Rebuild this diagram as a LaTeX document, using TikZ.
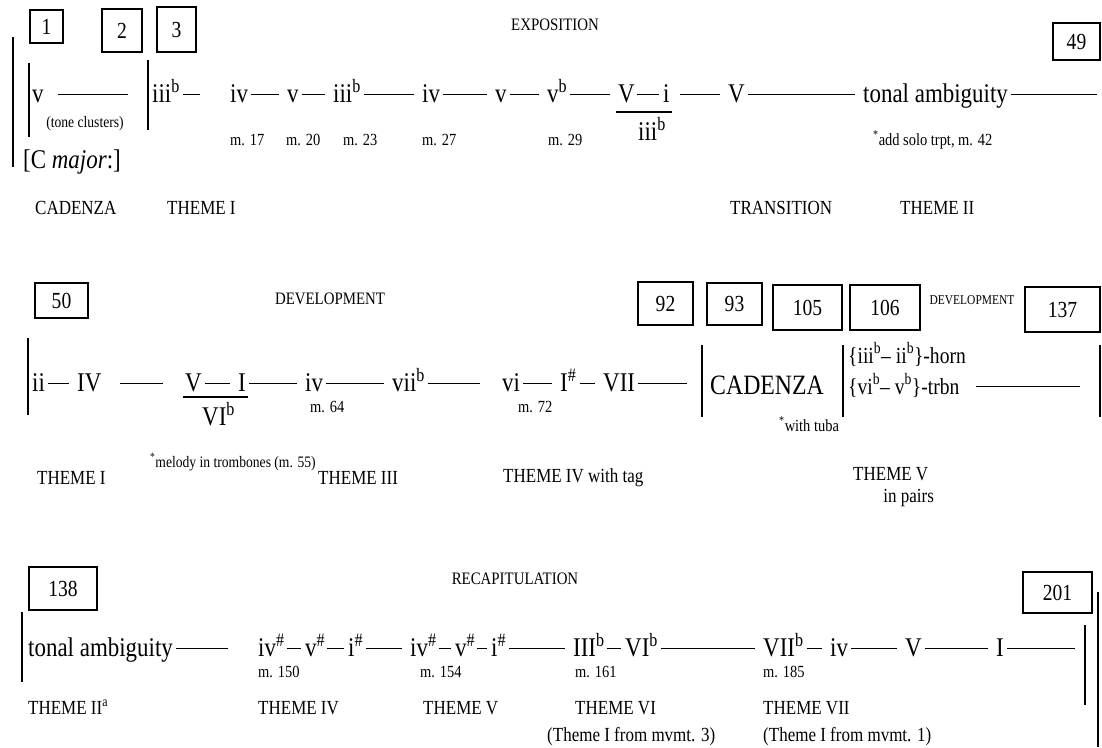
\documentclass[tikz,border=0pt]{standalone}
\usepackage{fontspec}
\setmainfont{Liberation Serif}[FakeStretch=0.85]
\usetikzlibrary{positioning}

\begin{document}
\begin{tikzpicture}[x=1pt, y=-1pt,
  chord/.style={font=\fontsize{27}{29}\selectfont, inner xsep=2pt, inner ysep=0pt, text height=18pt, text depth=3pt, anchor=base west},
  inst/.style={chord, font=\fontsize{23}{25}\selectfont},
  lbl/.style={font=\fontsize{20}{22}\selectfont, inner sep=0pt, anchor=base west},
  head/.style={font=\fontsize{17.5}{20}\selectfont, inner sep=0pt, anchor=base},
  mno/.style={font=\fontsize{17}{19}\selectfont, inner sep=0pt, anchor=base west},
  note/.style={font=\fontsize{16}{18}\selectfont, inner sep=0pt, anchor=base west},
  mbox/.style={draw, line width=1.4pt, inner sep=0pt, font=\fontsize{23}{25}\selectfont},
  link/.style={line width=1.1pt, shorten >=6pt, shorten <=1pt},
  tight/.style={link, shorten >=2pt, shorten <=0pt},
  barl/.style={line width=1.8pt}]
\useasboundingbox (0,0) rectangle (1102,747);

\node[mbox, minimum width=33pt, minimum height=33pt] (m1) at (46.5,26.5) {1};
\node[mbox, minimum width=40pt, minimum height=43pt] (m2) at (122,30.5) {2};
\node[mbox, minimum width=39pt, minimum height=45pt] (m3) at (176.5,29.5) {3};
\node[mbox, minimum width=47pt, minimum height=37pt] (m49) at (1076.5,41.5) {49};
\node[head] (expo) at (555,30) {EXPOSITION};
\draw[barl] (13,37) -- (13,167); \draw[barl] (29,63) -- (29,137); \draw[barl] (148,60) -- (148,130);
\node[chord] (v1) at (30,102) {v};
\node[note, anchor=base] (tcl) at (85,127) {(tone clusters)};
\node[chord] (cmaj) at (21,168) {[C \textit{major}:]};
\coordinate (cadE) at (134,94.5);
\node[chord] (iiiA) at (150,102) {iii\textsuperscript{b}};
\node[chord] (ivA) at (228,102) {iv};
\node[chord] (vA) at (285,102) {v};
\node[chord] (iiiB) at (331,102) {iii\textsuperscript{b}};
\node[chord] (ivB) at (420,102) {iv};
\node[chord] (vB) at (493,102) {v};
\node[chord] (vbA) at (545,102) {v\textsuperscript{b}};
\node[chord] (fV) at (616,102) {V};
\node[chord] (fi) at (661,102) {i};
\node[chord] (fiii) at (636,140) {iii\textsuperscript{b}};
\node[chord] (VA) at (726,102) {V};
\node[chord] (tonA) at (861,102) {tonal ambiguity};
\coordinate (endA) at (1103,94.5);
\coordinate (fbA) at (0,112);
\node[mno] (m17) at (230,145) {m. 17};
\node[mno] (m20) at (286,145) {m. 20};
\node[mno] (m23) at (343,145) {m. 23};
\node[mno] (m27) at (422,145) {m. 27};
\node[mno] (m29) at (548,145) {m. 29};
\node[mno] (trpt) at (873,145) {\textsuperscript{*}add solo trpt, m. 42};
\node[lbl] (cadz) at (35,214) {CADENZA};
\node[lbl] (thI) at (167,214) {THEME I};
\node[lbl] (trans) at (730,214) {TRANSITION};
\node[lbl] (thII) at (900,214) {THEME II};
\draw[link, shorten <=12pt] (v1) -- (cadE); \draw[link, shorten >=28pt] (iiiA) -- (ivA);
\draw[link] (ivA) -- (vA); \draw[link] (vA) -- (iiiB); \draw[link] (iiiB) -- (ivB);
\draw[link] (ivB) -- (vB); \draw[link] (vB) -- (vbA); \draw[link] (vbA) -- (fV);
\draw[tight] (fV) -- (fi); \draw[link, shorten <=8pt] (fi) -- (VA); \draw[link] (VA) -- (tonA);
\draw[link] (tonA) -- (endA);
\draw[line width=1.1pt] (fV.west |- fbA) -- (fi.east |- fbA);

\node[mbox, minimum width=53pt, minimum height=35pt] (m50) at (61.5,300.5) {50};
\node[head] (devel) at (330,304) {DEVELOPMENT};
\node[mbox, minimum width=55pt, minimum height=43pt] (m92) at (665.5,303.5) {92};
\node[mbox, minimum width=55pt, minimum height=42pt] (m93) at (734.5,304) {93};
\node[mbox, minimum width=69pt, minimum height=45pt] (m105) at (807.5,307.5) {105};
\node[mbox, minimum width=70pt, minimum height=45pt] (m106) at (885,307.5) {106};
\node[head, font=\fontsize{13.5}{15}\selectfont] (develb) at (972,304) {DEVELOPMENT};
\node[mbox, minimum width=75pt, minimum height=45pt] (m137) at (1062.5,309.5) {137};
\draw[barl] (28,338) -- (28,415); \draw[barl] (702,345) -- (702,417);
\draw[barl] (843,345) -- (843,417); \draw[barl] (1100,345) -- (1100,417);
\node[chord] (ii) at (30,391) {ii};
\node[chord] (IV) at (75,391) {IV};
\node[chord] (fV2) at (183,391) {V};
\node[chord] (fI2) at (236,391) {I};
\node[chord] (fVI) at (200,425) {VI\textsuperscript{b}};
\node[chord] (iv2) at (303,391) {iv};
\node[chord] (vii) at (390,391) {vii\textsuperscript{b}};
\node[chord] (vi) at (500,391) {vi};
\node[chord] (Is) at (558,391) {I\textsuperscript{\#}};
\node[chord] (VII) at (601,391) {VII};
\coordinate (endB) at (693,383.5);
\coordinate (fbB) at (0,397);
\node[chord, font=\fontsize{28}{30}\selectfont] (cadb) at (708,394) {CADENZA};
\node[mno] (tuba) at (779,431) {\textsuperscript{*}with tuba};
\node[inst] (horn) at (846,363) {\{iii\textsuperscript{b}-- ii\textsuperscript{b}\}-horn};
\node[inst] (trbn) at (846,394) {\{vi\textsuperscript{b}-- v\textsuperscript{b}\}-trbn};
\coordinate (devE) at (1086,386.5);
\node[mno] (m64) at (310,412) {m. 64};
\node[mno] (m72) at (518,412) {m. 72};
\node[note] (melo) at (150,467) {\textsuperscript{*}melody in trombones (m. 55)};
\node[lbl] (thIb) at (37,484) {THEME I};
\node[lbl] (thIII) at (318,484) {THEME III};
\node[lbl] (thIV) at (503,482) {THEME IV with tag};
\node[lbl] (thV) at (853,480) {THEME V};
\node[lbl, below=9pt of thV, xshift=18pt] (pairs) {in pairs};
\draw[link] (ii) -- (IV); \draw[link, shorten <=16pt, shorten >=20pt] (IV) -- (fV2);
\draw[link] (fV2) -- (fI2); \draw[link] (fI2) -- (iv2); \draw[link] (iv2) -- (vii);
\draw[link, shorten >=20pt] (vii) -- (vi); \draw[link] (vi) -- (Is); \draw[link] (Is) -- (VII);
\draw[link] (VII) -- (endB); \draw[link, shorten <=14pt] (trbn) -- (devE);
\draw[line width=1.1pt] (fV2.west |- fbB) -- (fI2.east |- fbB);

\node[mbox, minimum width=68pt, minimum height=43pt] (m138) at (63,588.5) {138};
\node[head] (recap) at (515,584) {RECAPITULATION};
\node[mbox, minimum width=69pt, minimum height=41pt] (m201) at (1057.5,592.5) {201};
\draw[barl] (22,612) -- (22,682); \draw[barl] (1085,625) -- (1085,705); \draw[barl] (1098,592) -- (1098,747);
\node[chord] (tonB) at (26,656) {tonal ambiguity};
\node[chord] (ivsA) at (256,656) {iv\textsuperscript{\#}};
\node[chord] (vsA) at (303,656) {v\textsuperscript{\#}};
\node[chord] (isA) at (346,656) {i\textsuperscript{\#}};
\node[chord] (ivsB) at (408,656) {iv\textsuperscript{\#}};
\node[chord] (vsB) at (453,656) {v\textsuperscript{\#}};
\node[chord] (isB) at (489,656) {i\textsuperscript{\#}};
\node[chord] (IIIb) at (571,656) {III\textsuperscript{b}};
\node[chord] (VIb) at (623,656) {VI\textsuperscript{b}};
\node[chord] (VIIb) at (761,656) {VII\textsuperscript{b}};
\node[chord] (iv3) at (828,656) {iv};
\node[chord] (V3) at (903,656) {V};
\node[chord] (I3) at (994,656) {I};
\coordinate (endC) at (1081,648.5);
\node[mno] (m150) at (258,677) {m. 150};
\node[mno] (m154) at (420,677) {m. 154};
\node[mno] (m161) at (575,677) {m. 161};
\node[mno] (m185) at (763,677) {m. 185};
\node[lbl] (thIIa) at (28,714) {THEME II\textsuperscript{a}};
\node[lbl] (thIVb) at (258,714) {THEME IV};
\node[lbl] (thVb) at (423,714) {THEME V};
\node[lbl] (thVI) at (575,714) {THEME VI};
\node[lbl] (thVII) at (763,714) {THEME VII};
\node[lbl] (src3) at (547,741) {(Theme I from mvmt. 3)};
\node[lbl] (src1) at (763,741) {(Theme I from mvmt. 1)};
\draw[link, shorten >=28pt] (tonB) -- (ivsA); \draw[tight] (ivsA) -- (vsA); \draw[tight] (vsA) -- (isA);
\draw[link] (isA) -- (ivsB); \draw[tight] (ivsB) -- (vsB); \draw[tight] (vsB) -- (isB);
\draw[link] (isB) -- (IIIb); \draw[tight] (IIIb) -- (VIb); \draw[link] (VIb) -- (VIIb);
\draw[link] (VIIb) -- (iv3); \draw[link] (iv3) -- (V3); \draw[link] (V3) -- (I3);
\draw[link] (I3) -- (endC);
\end{tikzpicture}
\end{document}
